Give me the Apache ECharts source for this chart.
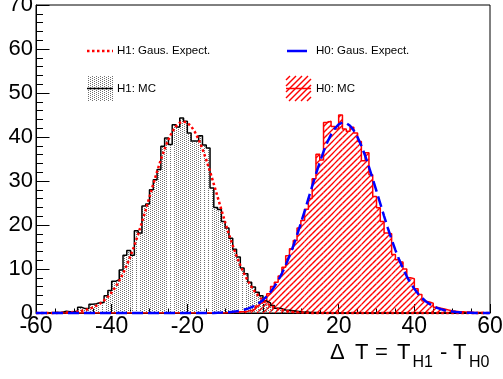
<!DOCTYPE html>
<html><head><meta charset="utf-8">
<script src="https://cdn.jsdelivr.net/npm/echarts/dist/echarts.min.js"></script>
<style>html,body{margin:0;padding:0;background:#fff}#c{width:503px;height:379px}</style>
</head><body><div id="c"></div>
<script>
// x positions: bin edges of the histograms / sample points of the curves
const xEdges = [-60,-59,-58,-57,-56,-55,-54,-53,-52,-51,-50,-49,-48,-47,-46,-45,-44,-43,-42,-41,
-40,-39,-38,-37,-36,-35,-34,-33,-32,-31,-30,-29,-28,-27,-26,-25,-24,-23,-22,-21,
-20,-19,-18,-17,-16,-15,-14,-13,-12,-11,-10,-9,-8,-7,-6,-5,-4,-3,-2,-1,
0,1,2,3,4,5,6,7,8,9,10,11,12,13,14,15,16,17,18,19,20,21,22,23,24,25,26,27,28,29,
30,31,32,33,34,35,36,37,38,39,40,41,42,43,44,45,46,47,48,49,50,51,52,53,54,55,56,57,58,59,60];

// H1 MC histogram, bins [-60,-59) ... [59,60)
const h1MC = [
0,0,0,0,0.1,0.1,0.2,0.4,0.3,0.3,
0.4,1.3,1.0,1.0,2.0,2.1,2.4,2.4,3.9,5.1,
7.2,7.6,9.8,13.1,14.2,13.1,18.7,18.2,24.3,24.8,
28.0,30.3,32.6,37.9,39.8,38.3,42.8,42.3,44.3,43.6,
40.9,39.1,39.1,40.3,38.2,37.5,28.4,24.0,23.5,20.8,
19.3,17.0,14.5,12.7,10.2,8.9,7.0,5.9,4.7,3.9,
2.7,2.3,1.7,1.1,1.0,0.7,0.6,0.5,0.4,0.3,
0.2,0.2,0.1,0.1,0,0,0,0,0,0,
0,0,0,0,0,0,0,0,0,0,0,0,0,0,0,0,0,0,0,0,
0,0,0,0,0,0,0,0,0,0,0,0,0,0,0,0,0,0,0,0];

// H0 MC histogram
const h0MC = [
0,0,0,0,0,0,0,0,0,0,0,0,0,0,0,0,0,0,0,0,
0,0,0,0,0,0,0,0,0,0,0,0,0,0,0,0,0,0,0,0,
0,0,0,0,0,0,0,0,0,0,
0.1,0.1,0.2,0.3,0.3,0.4,0.6,0.9,1.6,2.3,
2.8,4.4,6.0,7.0,8.4,10.4,13.0,14.6,16.5,19.3,
21.0,23.6,26.0,30.5,36.1,34.8,43.3,43.6,42.4,41.8,
45.0,41.8,41.3,42.2,40.9,39.0,34.6,36.4,31.4,26.5,
23.9,20.8,18.2,18.0,13.3,12.1,11.6,10.0,8.0,7.8,
5.5,4.2,2.7,2.5,2.2,1.3,1.1,0.9,0.7,0.5,
0.4,0.3,0.3,0.2,0.2,0.1,0.1,0.1,0,0];

// H1 Gaussian expectation, read at x = -60 ... 60
const h1Gaus = [
0,0,0,0,0,0,0.05,0.08,0.12,0.17,
0.24,0.34,0.48,0.67,0.92,1.24,1.66,2.19,2.86,3.68,
4.68,5.89,7.31,8.96,10.85,12.97,15.33,17.88,20.61,23.46,
26.38,29.30,32.15,34.83,37.28,39.41,41.15,42.44,43.23,43.5,
43.23,42.44,41.15,39.41,37.28,34.83,32.15,29.30,26.38,23.46,
20.61,17.88,15.33,12.97,10.85,8.96,7.31,5.89,4.68,3.68,
2.86,2.19,1.66,1.24,0.92,0.67,0.48,0.34,0.24,0.17,
0.12,0.08,0.05,0,0,0,0,0,0,0,
0,0,0,0,0,0,0,0,0,0,0,0,0,0,0,0,0,0,0,0,
0,0,0,0,0,0,0,0,0,0,0,0,0,0,0,0,0,0,0,0,0];

// H0 Gaussian expectation, read at x = -60 ... 60
const h0Gaus = [
0,0,0,0,0,0,0,0,0,0,0,0,0,0,0,0,0,0,0,0,
0,0,0,0,0,0,0,0,0,0,0,0,0,0,0,0,0,0,0,0,
0,0,0,0,0,0,0,0,
0.06,0.09,0.13,0.19,0.27,0.38,0.53,0.73,0.99,1.32,1.75,2.29,
2.97,3.80,4.80,5.99,7.39,9.02,10.86,12.94,15.23,17.71,
20.36,23.14,25.98,28.82,31.61,34.25,36.67,38.82,40.60,41.97,
42.87,43.28,43.17,42.57,41.47,39.94,38.00,35.74,33.21,30.50,
27.69,24.84,22.02,19.29,16.70,14.29,12.08,10.10,8.34,6.80,
5.49,4.37,3.45,2.68,2.06,1.57,1.18,0.88,0.64,0.47,
0.33,0.24,0.17,0.12,0.08,0.05,0,0,0,0,0];

const FONT = '"Liberation Sans", Arial, Helvetica, sans-serif';
const DOT_COLOR = '#6e6e6e', HATCH_COLOR = '#ff0000', HATCH_STEP = 6, HATCH_WIDTH = 1.4;

// texture helpers: segments / dots inside a pixel rectangle
function hatchSegs(left, top, right, bottom){
  const segs = [];
  const c0 = Math.ceil((left + top) / HATCH_STEP) * HATCH_STEP;
  for (let c = c0; c <= right + bottom; c += HATCH_STEP){
    const xa = Math.max(left, c - bottom), xb = Math.min(right, c - top);
    if (xb > xa) segs.push([xa, c - xa, xb, c - xb]);
  }
  return segs;
}
function dotCells(left, top, right, bottom){
  const cells = [];
  for (let y = Math.ceil(top); y < bottom - 0.5; y++){
    const off = (y % 2 === 0) ? 0 : 2;
    let x = Math.ceil(left);
    x += ((off - x) % 4 + 4) % 4;
    for (; x < right - 0.5; x += 4) cells.push([x, y]);
  }
  return cells;
}
function hatchPathData(l,t,r,b){ return hatchSegs(l,t,r,b).map(s=>'M'+s[0].toFixed(2)+' '+s[1].toFixed(2)+'L'+s[2].toFixed(2)+' '+s[3].toFixed(2)).join(''); }
function dotPathData(l,t,r,b){ return dotCells(l,t,r,b).map(c=>'M'+c[0]+' '+c[1]+'h1v1h-1z').join(''); }

function histData(vals){
  const d = vals.map((v,i)=>[xEdges[i], v]);
  d.push([xEdges[vals.length], vals[vals.length-1]]);
  return d;
}
function binData(vals){ return vals.map((v,i)=>[xEdges[i], xEdges[i+1], v]); }
function curveData(vals){ return vals.map((v,i)=>[xEdges[i], v]); }

function textureSeries(vals, kind, z){
  return {type:'custom', coordinateSystem:'cartesian2d', data:binData(vals), z:z, silent:true,
    encode:{x:[0,1], y:2},
    renderItem:function(params, api){
      const v = api.value(2);
      if (!(v > 0)) return {type:'group', children:[]};
      const p0 = api.coord([api.value(0), 0]);
      const p1 = api.coord([api.value(1), v]);
      const left = p0[0], right = p1[0], top = p1[1], bottom = p0[1];
      const pd = kind === 'hatch' ? hatchPathData(left, top, right, bottom) : dotPathData(left, top, right, bottom);
      if (!pd) return {type:'group', children:[]};
      if (kind === 'hatch'){
        return {type:'path', shape:{pathData:pd}, style:{fill:null, stroke:HATCH_COLOR, lineWidth:HATCH_WIDTH}};
      }
      return {type:'path', shape:{pathData:pd}, style:{fill:DOT_COLOR, stroke:null}};
    }};
}

// legend texture boxes as graphic groups
function legendHatch(l,t,r,b){
  return {type:'group', z:100, children: hatchSegs(l,t,r,b).map(s=>({type:'line', z:100,
    shape:{x1:s[0],y1:s[1],x2:s[2],y2:s[3]}, style:{stroke:HATCH_COLOR, lineWidth:HATCH_WIDTH}}))};
}
function legendDots(l,t,r,b){
  return {type:'group', z:100, children: dotCells(l,t,r,b).map(c=>({type:'rect', z:100,
    shape:{x:c[0],y:c[1],width:1,height:1}, style:{fill:DOT_COLOR}}))};
}

const chart = echarts.init(document.getElementById('c'), null, {renderer:'canvas'});
const txt = (t,x,y,size,align) => ({type:'text', z:100, style:{text:t, x:x, y:y, font: size+'px '+FONT, fill:'#000', textAlign: align||'left', textVerticalAlign:'middle'}});

chart.setOption({
  animation:false,
  backgroundColor:'#fff',
  grid:{left:36, top:5, width:454, height:308, show:true, borderColor:'#000', borderWidth:1, containLabel:false, outerBoundsMode:'none'},
  xAxis:{type:'value', min:-60, max:60, interval:20,
    axisLine:{show:true, onZero:false, lineStyle:{color:'#000', width:1}},
    axisTick:{show:true, inside:true, length:9, lineStyle:{color:'#000'}},
    minorTick:{show:true, splitNumber:4, length:4.5, lineStyle:{color:'#000'}},
    splitLine:{show:false}, minorSplitLine:{show:false},
    axisLabel:{color:'#000', fontSize:23, fontFamily:FONT, margin:2}},
  yAxis:{type:'value', min:0, max:70, interval:10,
    axisLine:{show:true, onZero:false, lineStyle:{color:'#000', width:1}},
    axisTick:{show:true, inside:true, length:13.5, lineStyle:{color:'#000'}},
    minorTick:{show:true, splitNumber:5, length:7, lineStyle:{color:'#000'}},
    splitLine:{show:false}, minorSplitLine:{show:false},
    axisLabel:{color:'#000', fontSize:22, fontFamily:FONT, margin:3}},
  series:[
    textureSeries(h0MC, 'hatch', 1),
    textureSeries(h1MC, 'dots', 1),
    {name:'H0: MC', type:'line', step:'end', data:histData(h0MC), showSymbol:false, z:2,
      lineStyle:{color:'#ff0000', width:1.5}},
    {name:'H1: MC', type:'line', step:'end', data:histData(h1MC), showSymbol:false, z:3,
      lineStyle:{color:'#000', width:1.5}},
    {name:'H1: Gaus. Expect.', type:'line', data:curveData(h1Gaus), showSymbol:false, z:4, clip:false,
      lineStyle:{color:'#ff0000', width:2.5, type:[2.5,2.5]}},
    {name:'H0: Gaus. Expect.', type:'line', data:curveData(h0Gaus), showSymbol:false, z:5, clip:false,
      lineStyle:{color:'#0000ff', width:2.5, type:[11,5]}}
  ],
  graphic:[
    {type:'line', z:100, shape:{x1:87,y1:51,x2:113,y2:51}, style:{stroke:'#ff0000', lineWidth:2.5, lineDash:[2.5,2.5]}},
    txt('H1: Gaus. Expect.', 117, 51, 11.5),
    {type:'line', z:100, shape:{x1:287,y1:51,x2:307,y2:51}, style:{stroke:'#0000ff', lineWidth:2.5}},
    txt('H0: Gaus. Expect.', 316, 51, 11.5),
    legendDots(87, 76, 113, 101),
    {type:'line', z:101, shape:{x1:87,y1:88.5,x2:113,y2:88.5}, style:{stroke:'#000', lineWidth:1.5}},
    txt('H1: MC', 117, 89, 11.5),
    legendHatch(286, 76, 311, 101),
    {type:'line', z:101, shape:{x1:286,y1:88.5,x2:311,y2:88.5}, style:{stroke:'#ff0000', lineWidth:1.5}},
    txt('H0: MC', 316, 89, 11.5),
    txt('\u0394', 330, 352.5, 22),
    txt('T', 355, 352.5, 22),
    txt('=', 375, 352.5, 22),
    txt('T', 397, 352.5, 22),
    txt('H1', 412.5, 363, 16),
    txt('-', 440, 352.5, 22),
    txt('T', 453, 352.5, 22),
    txt('H0', 469, 363, 16)
  ]
});
</script></body></html>
